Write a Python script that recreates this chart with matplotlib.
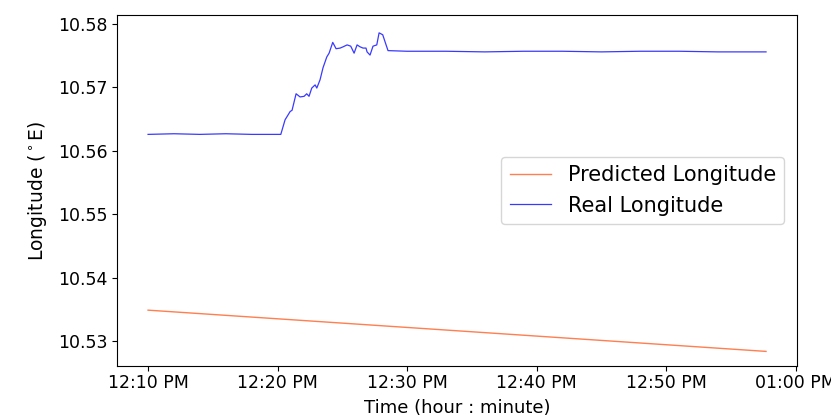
import matplotlib
matplotlib.use("Agg")
import matplotlib.pyplot as plt
import matplotlib.dates as mdates
import numpy as np
from datetime import datetime, timedelta

# minutes after 12:00
pred_minutes = [10.0, 57.72]
pred_values = [10.5349, 10.5284]

real_minutes = [10.0, 12.0, 14.0, 16.0, 18.0, 20.25, 20.58, 20.97, 21.12, 21.43, 21.74, 22.05,
                22.25, 22.43, 22.64, 22.90, 23.03, 23.28, 23.51, 23.80, 23.98, 24.26,
                24.52, 24.83, 25.06, 25.37, 25.65, 25.91, 26.14, 26.37, 26.60, 26.83,
                26.91, 27.14, 27.37, 27.66, 27.84, 28.12, 28.38, 28.53, 30.0, 33.0,
                36.0, 39.0, 42.0, 45.0, 48.0, 51.0, 54.0, 57.72]
real_values = [10.5626, 10.5627, 10.5626, 10.5627, 10.5626, 10.5626, 10.5649, 10.5662, 10.5664,
               10.5690, 10.5685, 10.5686, 10.5690, 10.5686, 10.5699, 10.5704, 10.5699,
               10.5712, 10.5731, 10.5748, 10.5754, 10.5771, 10.5761, 10.5762, 10.5764,
               10.5767, 10.5765, 10.5754, 10.5767, 10.5764, 10.5762, 10.5762, 10.5756,
               10.5751, 10.5765, 10.5767, 10.5786, 10.5783, 10.5767, 10.5758, 10.5757,
               10.5757, 10.5756, 10.5757, 10.5757, 10.5756, 10.5757, 10.5757, 10.5756,
               10.5756]

base = datetime(2020, 1, 1, 12, 0, 0)
pred_t = [base + timedelta(minutes=m) for m in pred_minutes]
real_t = [base + timedelta(minutes=m) for m in real_minutes]

fig = plt.figure(figsize=(8.31, 4.19), dpi=100)
ax = fig.add_axes([0.141, 0.1265, 0.818, 0.8375])
ax.plot(pred_t, pred_values, color="#ff7f50", lw=1.0, label="Predicted Longitude")
ax.plot(real_t, real_values, color="#3a3aff", lw=0.9, label="Real Longitude")

ax.xaxis.set_major_locator(mdates.MinuteLocator(byminute=[0, 10, 20, 30, 40, 50]))
ax.xaxis.set_major_formatter(mdates.DateFormatter("%I:%M %p"))
ax.set_ylim(10.5261, 10.5814)
ax.set_yticks([10.53, 10.54, 10.55, 10.56, 10.57, 10.58])
ax.tick_params(labelsize=12.5)
ax.tick_params(axis="x", pad=2)
ax.set_xlabel("Time (hour : minute)", fontsize=13, labelpad=5)
ax.set_ylabel(r"Longitude ($^\circ$E)", fontsize=13.5, labelpad=6)
ax.legend(loc="center right", fontsize=15, borderaxespad=0.6)
fig.savefig("out.png", dpi=100)
